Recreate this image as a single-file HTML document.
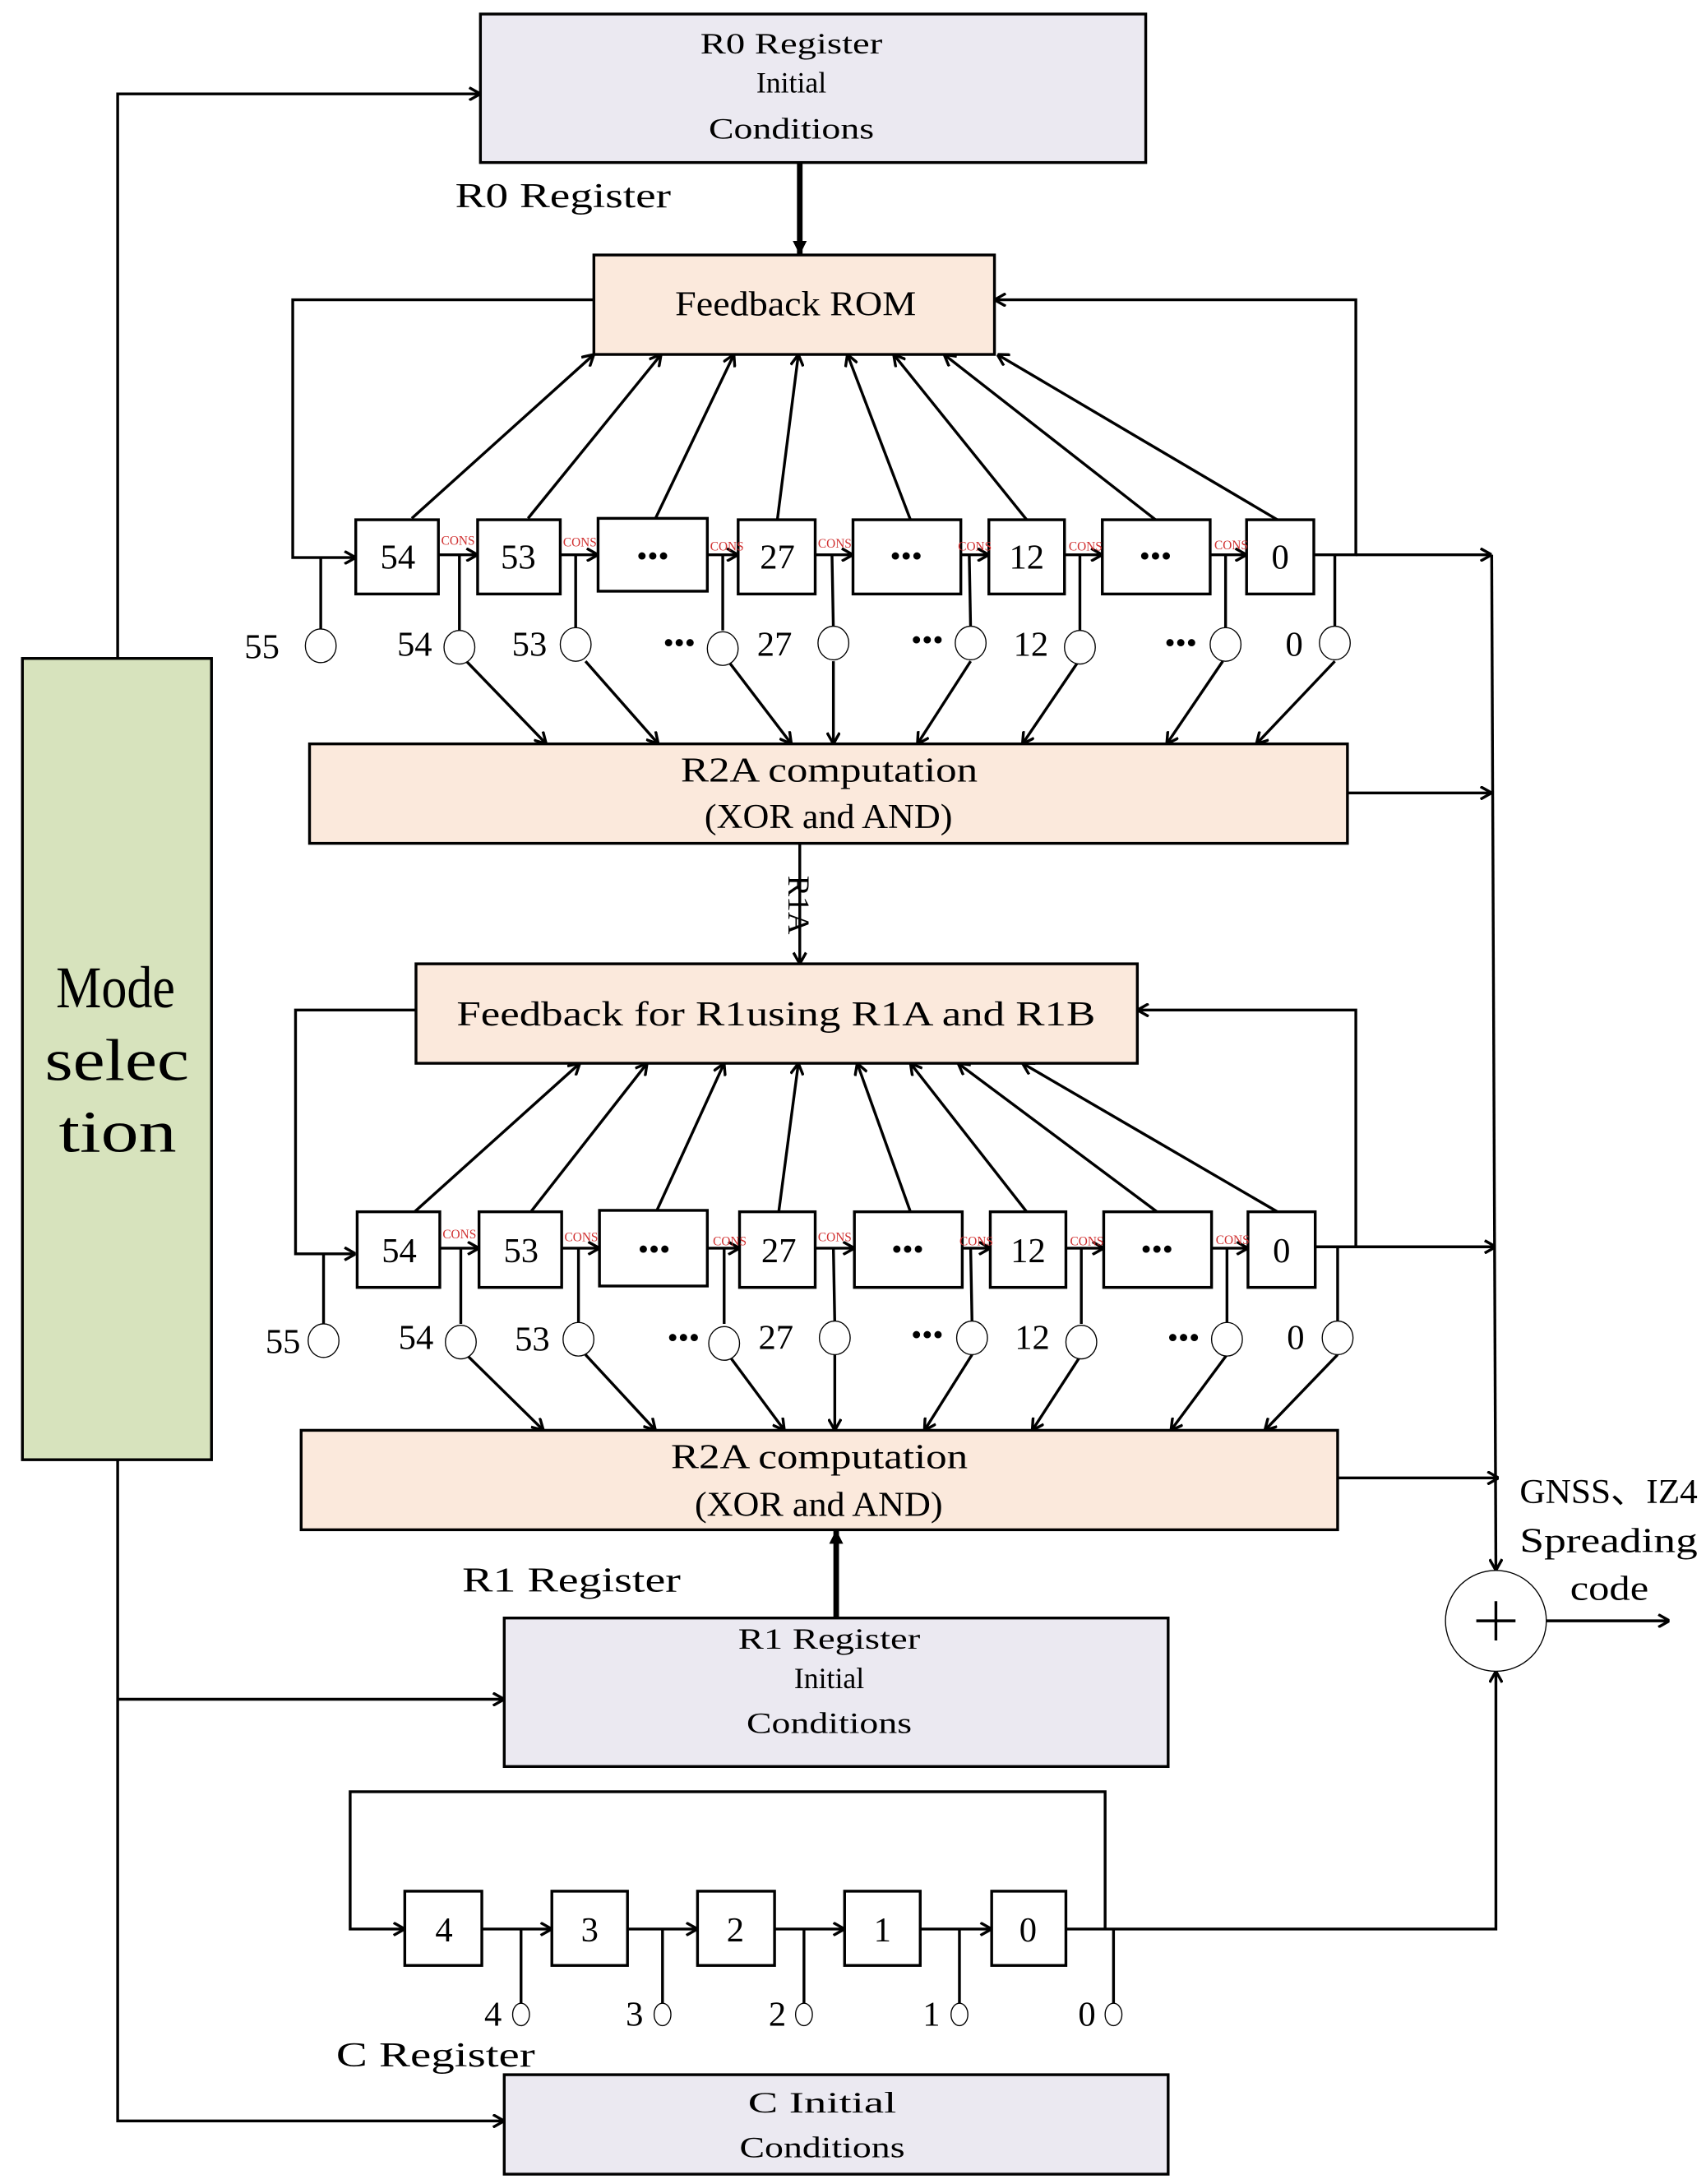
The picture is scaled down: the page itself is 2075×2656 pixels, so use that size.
<!DOCTYPE html>
<html><head><meta charset="utf-8"><style>html,body{margin:0;padding:0;background:#fff}svg{display:block}</style></head>
<body>
<svg width="2075" height="2656" viewBox="0 0 1218 1559" xmlns="http://www.w3.org/2000/svg" font-family="Liberation Serif, serif">
<defs>
<marker id="a" viewBox="0 0 10 10" refX="10" refY="5" markerWidth="10" markerHeight="10" markerUnits="userSpaceOnUse" orient="auto"><polyline points="2,0.5 10,5 2,9.5" fill="none" stroke="#000" stroke-width="2"/></marker>
<marker id="t" viewBox="0 0 10 10" refX="10" refY="5" markerWidth="20" markerHeight="10" markerUnits="userSpaceOnUse" orient="auto"><polygon points="0,0 10,5 0,10" fill="#000"/></marker>
</defs>
<rect width="1218" height="1559" fill="#fff"/>
<g stroke="#000" stroke-width="2" fill="none">
<rect x="343" y="10" width="475" height="106" fill="#ebe9f1"/>
<rect x="424" y="182" width="286" height="71" fill="#fbe9dc"/>
<rect x="221" y="531" width="741" height="71" fill="#fbe9dc"/>
<rect x="297" y="688" width="515" height="71" fill="#fbe9dc"/>
<rect x="215" y="1021" width="740" height="71" fill="#fbe9dc"/>
<rect x="360" y="1155" width="474" height="106" fill="#ebe9f1"/>
<rect x="360" y="1481" width="474" height="71" fill="#ebe9f1"/>
<rect x="16" y="470" width="135" height="572" fill="#d7e3bd"/>
<line x1="571" y1="116" x2="571" y2="182" stroke-width="4" marker-end="url(#t)"/>
<line x1="597" y1="1155" x2="597" y2="1092" stroke-width="4" marker-end="url(#t)"/>
<polyline points="84,470 84,67 343,67" marker-end="url(#a)"/>
<polyline points="84,1042 84,1514 360,1514" marker-end="url(#a)"/>
<line x1="84" y1="1213" x2="360" y2="1213" marker-end="url(#a)"/>
<polyline points="424,214 209,214 209,398 254,398" marker-end="url(#a)"/>
<polyline points="938,396 968,396 968,214 710,214" marker-end="url(#a)"/>
<rect x="254" y="371" width="59" height="53"/>
<rect x="341" y="371" width="59" height="53"/>
<rect x="427" y="370" width="78" height="52"/>
<rect x="527" y="371" width="55" height="53"/>
<rect x="609" y="371" width="77" height="53"/>
<rect x="706" y="371" width="54" height="53"/>
<rect x="787" y="371" width="77" height="53"/>
<rect x="890" y="371" width="48" height="53"/>
<line x1="313" y1="396" x2="341" y2="396" marker-end="url(#a)"/>
<line x1="400" y1="396" x2="427" y2="396" marker-end="url(#a)"/>
<line x1="505" y1="396" x2="527" y2="396" marker-end="url(#a)"/>
<line x1="582" y1="396" x2="609" y2="396" marker-end="url(#a)"/>
<line x1="686" y1="396" x2="706" y2="396" marker-end="url(#a)"/>
<line x1="760" y1="396" x2="787" y2="396" marker-end="url(#a)"/>
<line x1="864" y1="396" x2="890" y2="396" marker-end="url(#a)"/>
<line x1="968" y1="396" x2="1065" y2="396" marker-end="url(#a)"/>
<line x1="294" y1="370" x2="424" y2="253" marker-end="url(#a)"/>
<line x1="377" y1="370" x2="472" y2="253" marker-end="url(#a)"/>
<line x1="468" y1="370" x2="524" y2="253" marker-end="url(#a)"/>
<line x1="555" y1="371" x2="570" y2="253" marker-end="url(#a)"/>
<line x1="650" y1="371" x2="605" y2="253" marker-end="url(#a)"/>
<line x1="733" y1="371" x2="638" y2="253" marker-end="url(#a)"/>
<line x1="825" y1="371" x2="674" y2="253" marker-end="url(#a)"/>
<line x1="912" y1="371" x2="712" y2="253" marker-end="url(#a)"/>
<line x1="229" y1="398" x2="229" y2="450"/>
<line x1="328" y1="396" x2="328" y2="450"/>
<line x1="411" y1="396" x2="411" y2="450"/>
<line x1="516" y1="396" x2="516" y2="450"/>
<line x1="594" y1="396" x2="595" y2="450"/>
<line x1="692" y1="396" x2="693" y2="450"/>
<line x1="771" y1="396" x2="771" y2="450"/>
<line x1="875" y1="396" x2="875" y2="450"/>
<line x1="953" y1="396" x2="953" y2="450"/>
<line x1="333" y1="472" x2="390" y2="531" marker-end="url(#a)"/>
<line x1="418" y1="472" x2="470" y2="531" marker-end="url(#a)"/>
<line x1="520" y1="472" x2="565" y2="531" marker-end="url(#a)"/>
<line x1="595" y1="472" x2="595" y2="531" marker-end="url(#a)"/>
<line x1="693" y1="472" x2="655" y2="531" marker-end="url(#a)"/>
<line x1="770" y1="472" x2="730" y2="531" marker-end="url(#a)"/>
<line x1="873" y1="472" x2="833" y2="531" marker-end="url(#a)"/>
<line x1="953" y1="472" x2="897" y2="531" marker-end="url(#a)"/>
<line x1="962" y1="566" x2="1065" y2="566" marker-end="url(#a)"/>
<line x1="571" y1="602" x2="571" y2="688" marker-end="url(#a)"/>
<polyline points="297,721 211,721 211,895 254,895" marker-end="url(#a)"/>
<polyline points="939,890 968,890 968,721 812,721" marker-end="url(#a)"/>
<rect x="255" y="865" width="59" height="54"/>
<rect x="342" y="865" width="59" height="54"/>
<rect x="428" y="864" width="77" height="54"/>
<rect x="528" y="865" width="54" height="54"/>
<rect x="610" y="865" width="77" height="54"/>
<rect x="707" y="865" width="54" height="54"/>
<rect x="788" y="865" width="77" height="54"/>
<rect x="891" y="865" width="48" height="54"/>
<line x1="314" y1="891" x2="342" y2="891" marker-end="url(#a)"/>
<line x1="401" y1="891" x2="428" y2="891" marker-end="url(#a)"/>
<line x1="505" y1="891" x2="528" y2="891" marker-end="url(#a)"/>
<line x1="582" y1="891" x2="610" y2="891" marker-end="url(#a)"/>
<line x1="687" y1="891" x2="707" y2="891" marker-end="url(#a)"/>
<line x1="761" y1="891" x2="788" y2="891" marker-end="url(#a)"/>
<line x1="865" y1="891" x2="891" y2="891" marker-end="url(#a)"/>
<line x1="968" y1="890" x2="1068" y2="890" marker-end="url(#a)"/>
<line x1="296" y1="865" x2="414" y2="759" marker-end="url(#a)"/>
<line x1="379" y1="865" x2="462" y2="759" marker-end="url(#a)"/>
<line x1="469" y1="864" x2="517" y2="759" marker-end="url(#a)"/>
<line x1="556" y1="865" x2="570" y2="759" marker-end="url(#a)"/>
<line x1="650" y1="865" x2="612" y2="759" marker-end="url(#a)"/>
<line x1="733" y1="865" x2="650" y2="759" marker-end="url(#a)"/>
<line x1="826" y1="865" x2="684" y2="759" marker-end="url(#a)"/>
<line x1="912" y1="865" x2="730" y2="759" marker-end="url(#a)"/>
<line x1="231" y1="895" x2="231" y2="945"/>
<line x1="329" y1="891" x2="329" y2="945"/>
<line x1="413" y1="891" x2="413" y2="945"/>
<line x1="517" y1="891" x2="517" y2="945"/>
<line x1="595" y1="891" x2="596" y2="945"/>
<line x1="693" y1="891" x2="694" y2="945"/>
<line x1="772" y1="891" x2="772" y2="945"/>
<line x1="876" y1="891" x2="876" y2="945"/>
<line x1="955" y1="891" x2="955" y2="945"/>
<line x1="333" y1="967" x2="388" y2="1021" marker-end="url(#a)"/>
<line x1="418" y1="967" x2="468" y2="1021" marker-end="url(#a)"/>
<line x1="520" y1="967" x2="560" y2="1021" marker-end="url(#a)"/>
<line x1="596" y1="967" x2="596" y2="1021" marker-end="url(#a)"/>
<line x1="694" y1="967" x2="660" y2="1021" marker-end="url(#a)"/>
<line x1="772" y1="967" x2="737" y2="1021" marker-end="url(#a)"/>
<line x1="876" y1="967" x2="836" y2="1021" marker-end="url(#a)"/>
<line x1="955" y1="967" x2="903" y2="1021" marker-end="url(#a)"/>
<line x1="955" y1="1055" x2="1070" y2="1055" marker-end="url(#a)"/>
<line x1="1065" y1="396" x2="1068" y2="1121" marker-end="url(#a)"/>
<line x1="1104" y1="1157" x2="1192" y2="1157" marker-end="url(#a)"/>
<polyline points="761,1377 1068,1377 1068,1193" marker-end="url(#a)"/>
<polyline points="789,1377 789,1279 250,1279 250,1377 289,1377" marker-end="url(#a)"/>
<rect x="289" y="1350" width="55" height="53"/>
<rect x="394" y="1350" width="54" height="53"/>
<rect x="498" y="1350" width="55" height="53"/>
<rect x="603" y="1350" width="54" height="53"/>
<rect x="708" y="1350" width="53" height="53"/>
<line x1="344" y1="1377" x2="394" y2="1377" marker-end="url(#a)"/>
<line x1="448" y1="1377" x2="498" y2="1377" marker-end="url(#a)"/>
<line x1="553" y1="1377" x2="603" y2="1377" marker-end="url(#a)"/>
<line x1="657" y1="1377" x2="708" y2="1377" marker-end="url(#a)"/>
<line x1="372" y1="1377" x2="372" y2="1430"/>
<line x1="473" y1="1377" x2="473" y2="1430"/>
<line x1="574" y1="1377" x2="574" y2="1430"/>
<line x1="685" y1="1377" x2="685" y2="1430"/>
<line x1="795" y1="1377" x2="795" y2="1430"/>
</g>
<g stroke="#000" stroke-width="0.8" fill="#fff">
<circle cx="1068" cy="1157" r="36"/>
<ellipse cx="229" cy="461" rx="11" ry="12"/><ellipse cx="328" cy="462" rx="11" ry="12"/><ellipse cx="411" cy="460" rx="11" ry="12"/><ellipse cx="516" cy="463" rx="11" ry="12"/><ellipse cx="595" cy="459" rx="11" ry="12"/><ellipse cx="693" cy="459" rx="11" ry="12"/><ellipse cx="771" cy="462" rx="11" ry="12"/><ellipse cx="875" cy="460" rx="11" ry="12"/><ellipse cx="953" cy="459" rx="11" ry="12"/>
<ellipse cx="231" cy="957" rx="11" ry="12"/><ellipse cx="329" cy="958" rx="11" ry="12"/><ellipse cx="413" cy="956" rx="11" ry="12"/><ellipse cx="517" cy="959" rx="11" ry="12"/><ellipse cx="596" cy="955" rx="11" ry="12"/><ellipse cx="694" cy="955" rx="11" ry="12"/><ellipse cx="772" cy="958" rx="11" ry="12"/><ellipse cx="876" cy="956" rx="11" ry="12"/><ellipse cx="955" cy="955" rx="11" ry="12"/>
<ellipse cx="372" cy="1438" rx="6" ry="8"/><ellipse cx="473" cy="1438" rx="6" ry="8"/><ellipse cx="574" cy="1438" rx="6" ry="8"/><ellipse cx="685" cy="1438" rx="6" ry="8"/><ellipse cx="795" cy="1438" rx="6" ry="8"/>
</g>
<path d="M1068 1143 V1171 M1054 1157 H1082" stroke="#000" stroke-width="2"/>
<g fill="#000" font-size="21" text-anchor="middle">
<text x="565" y="38" textLength="130" lengthAdjust="spacingAndGlyphs">R0 Register</text>
<text x="565" y="66">Initial</text>
<text x="565" y="99" textLength="118" lengthAdjust="spacingAndGlyphs">Conditions</text>
<text x="592" y="1177" textLength="130" lengthAdjust="spacingAndGlyphs">R1 Register</text>
<text x="592" y="1205">Initial</text>
<text x="592" y="1237" textLength="118" lengthAdjust="spacingAndGlyphs">Conditions</text>
<text x="587" y="1508" textLength="106" lengthAdjust="spacingAndGlyphs">C Initial</text>
<text x="587" y="1540" textLength="118" lengthAdjust="spacingAndGlyphs">Conditions</text>
</g>
<g fill="#000" font-size="25">
<text x="325" y="148" textLength="154" lengthAdjust="spacingAndGlyphs">R0 Register</text>
<text x="330" y="1136" textLength="156" lengthAdjust="spacingAndGlyphs">R1 Register</text>
<text x="240" y="1475" textLength="142" lengthAdjust="spacingAndGlyphs">C Register</text>
<text x="482" y="225" textLength="172" lengthAdjust="spacingAndGlyphs">Feedback ROM</text>
<text x="486" y="558" textLength="212" lengthAdjust="spacingAndGlyphs">R2A computation</text>
<text x="503" y="591" textLength="177" lengthAdjust="spacingAndGlyphs">(XOR and AND)</text>
<text x="326" y="732" textLength="456" lengthAdjust="spacingAndGlyphs">Feedback for R1using R1A and R1B</text>
<text x="479" y="1048" textLength="212" lengthAdjust="spacingAndGlyphs">R2A computation</text>
<text x="496" y="1082" textLength="177" lengthAdjust="spacingAndGlyphs">(XOR and AND)</text>
<text x="1085" y="1073" textLength="127" lengthAdjust="spacingAndGlyphs">GNSS、IZ4</text>
<text x="1085" y="1108" textLength="127" lengthAdjust="spacingAndGlyphs">Spreading</text>
<text x="1121" y="1142" textLength="56" lengthAdjust="spacingAndGlyphs">code</text>
</g>
<text transform="translate(563,625) rotate(90)" font-size="22" fill="#000" textLength="42" lengthAdjust="spacingAndGlyphs">R1A</text>
<g fill="#000" font-size="42">
<text x="40" y="719" textLength="85" lengthAdjust="spacingAndGlyphs">Mode</text><text x="32" y="771" textLength="103" lengthAdjust="spacingAndGlyphs">selec</text><text x="42" y="822" textLength="84" lengthAdjust="spacingAndGlyphs">tion</text>
</g>
<g fill="#000" font-size="25" text-anchor="middle">
<text x="284" y="406">54</text><text x="370" y="406">53</text><text x="555" y="406">27</text><text x="733" y="406">12</text><text x="914" y="406">0</text>
<text x="466" y="404" font-size="22">•••</text><text x="647" y="404" font-size="22">•••</text><text x="825" y="404" font-size="22">•••</text>
<text x="187" y="470">55</text><text x="296" y="468">54</text><text x="378" y="468">53</text><text x="553" y="468">27</text><text x="736" y="468">12</text><text x="924" y="468">0</text>
<text x="485" y="466" font-size="22">•••</text><text x="662" y="464" font-size="22">•••</text><text x="843" y="466" font-size="22">•••</text>
<text x="285" y="901">54</text><text x="372" y="901">53</text><text x="556" y="901">27</text><text x="734" y="901">12</text><text x="915" y="901">0</text>
<text x="467" y="899" font-size="22">•••</text><text x="648" y="899" font-size="22">•••</text><text x="826" y="899" font-size="22">•••</text>
<text x="202" y="966">55</text><text x="297" y="963">54</text><text x="380" y="964">53</text><text x="554" y="963">27</text><text x="737" y="963">12</text><text x="925" y="963">0</text>
<text x="488" y="962" font-size="22">•••</text><text x="662" y="960" font-size="22">•••</text><text x="845" y="962" font-size="22">•••</text>
<text x="317" y="1386">4</text><text x="421" y="1386">3</text><text x="525" y="1386">2</text><text x="630" y="1386">1</text><text x="734" y="1386">0</text>
<text x="352" y="1446">4</text><text x="453" y="1446">3</text><text x="555" y="1446">2</text><text x="665" y="1446">1</text><text x="776" y="1446">0</text>
</g>
<g fill="#d03030" font-size="9" text-anchor="middle">
<text x="327" y="389">CONS</text><text x="414" y="390">CONS</text><text x="519" y="393">CONS</text><text x="596" y="391">CONS</text><text x="696" y="393">CONS</text><text x="775" y="393">CONS</text><text x="879" y="392">CONS</text>
<text x="328" y="884">CONS</text><text x="415" y="886">CONS</text><text x="521" y="889">CONS</text><text x="596" y="886">CONS</text><text x="697" y="889">CONS</text><text x="776" y="889">CONS</text><text x="880" y="888">CONS</text>
</g>
</svg>
</body></html>
